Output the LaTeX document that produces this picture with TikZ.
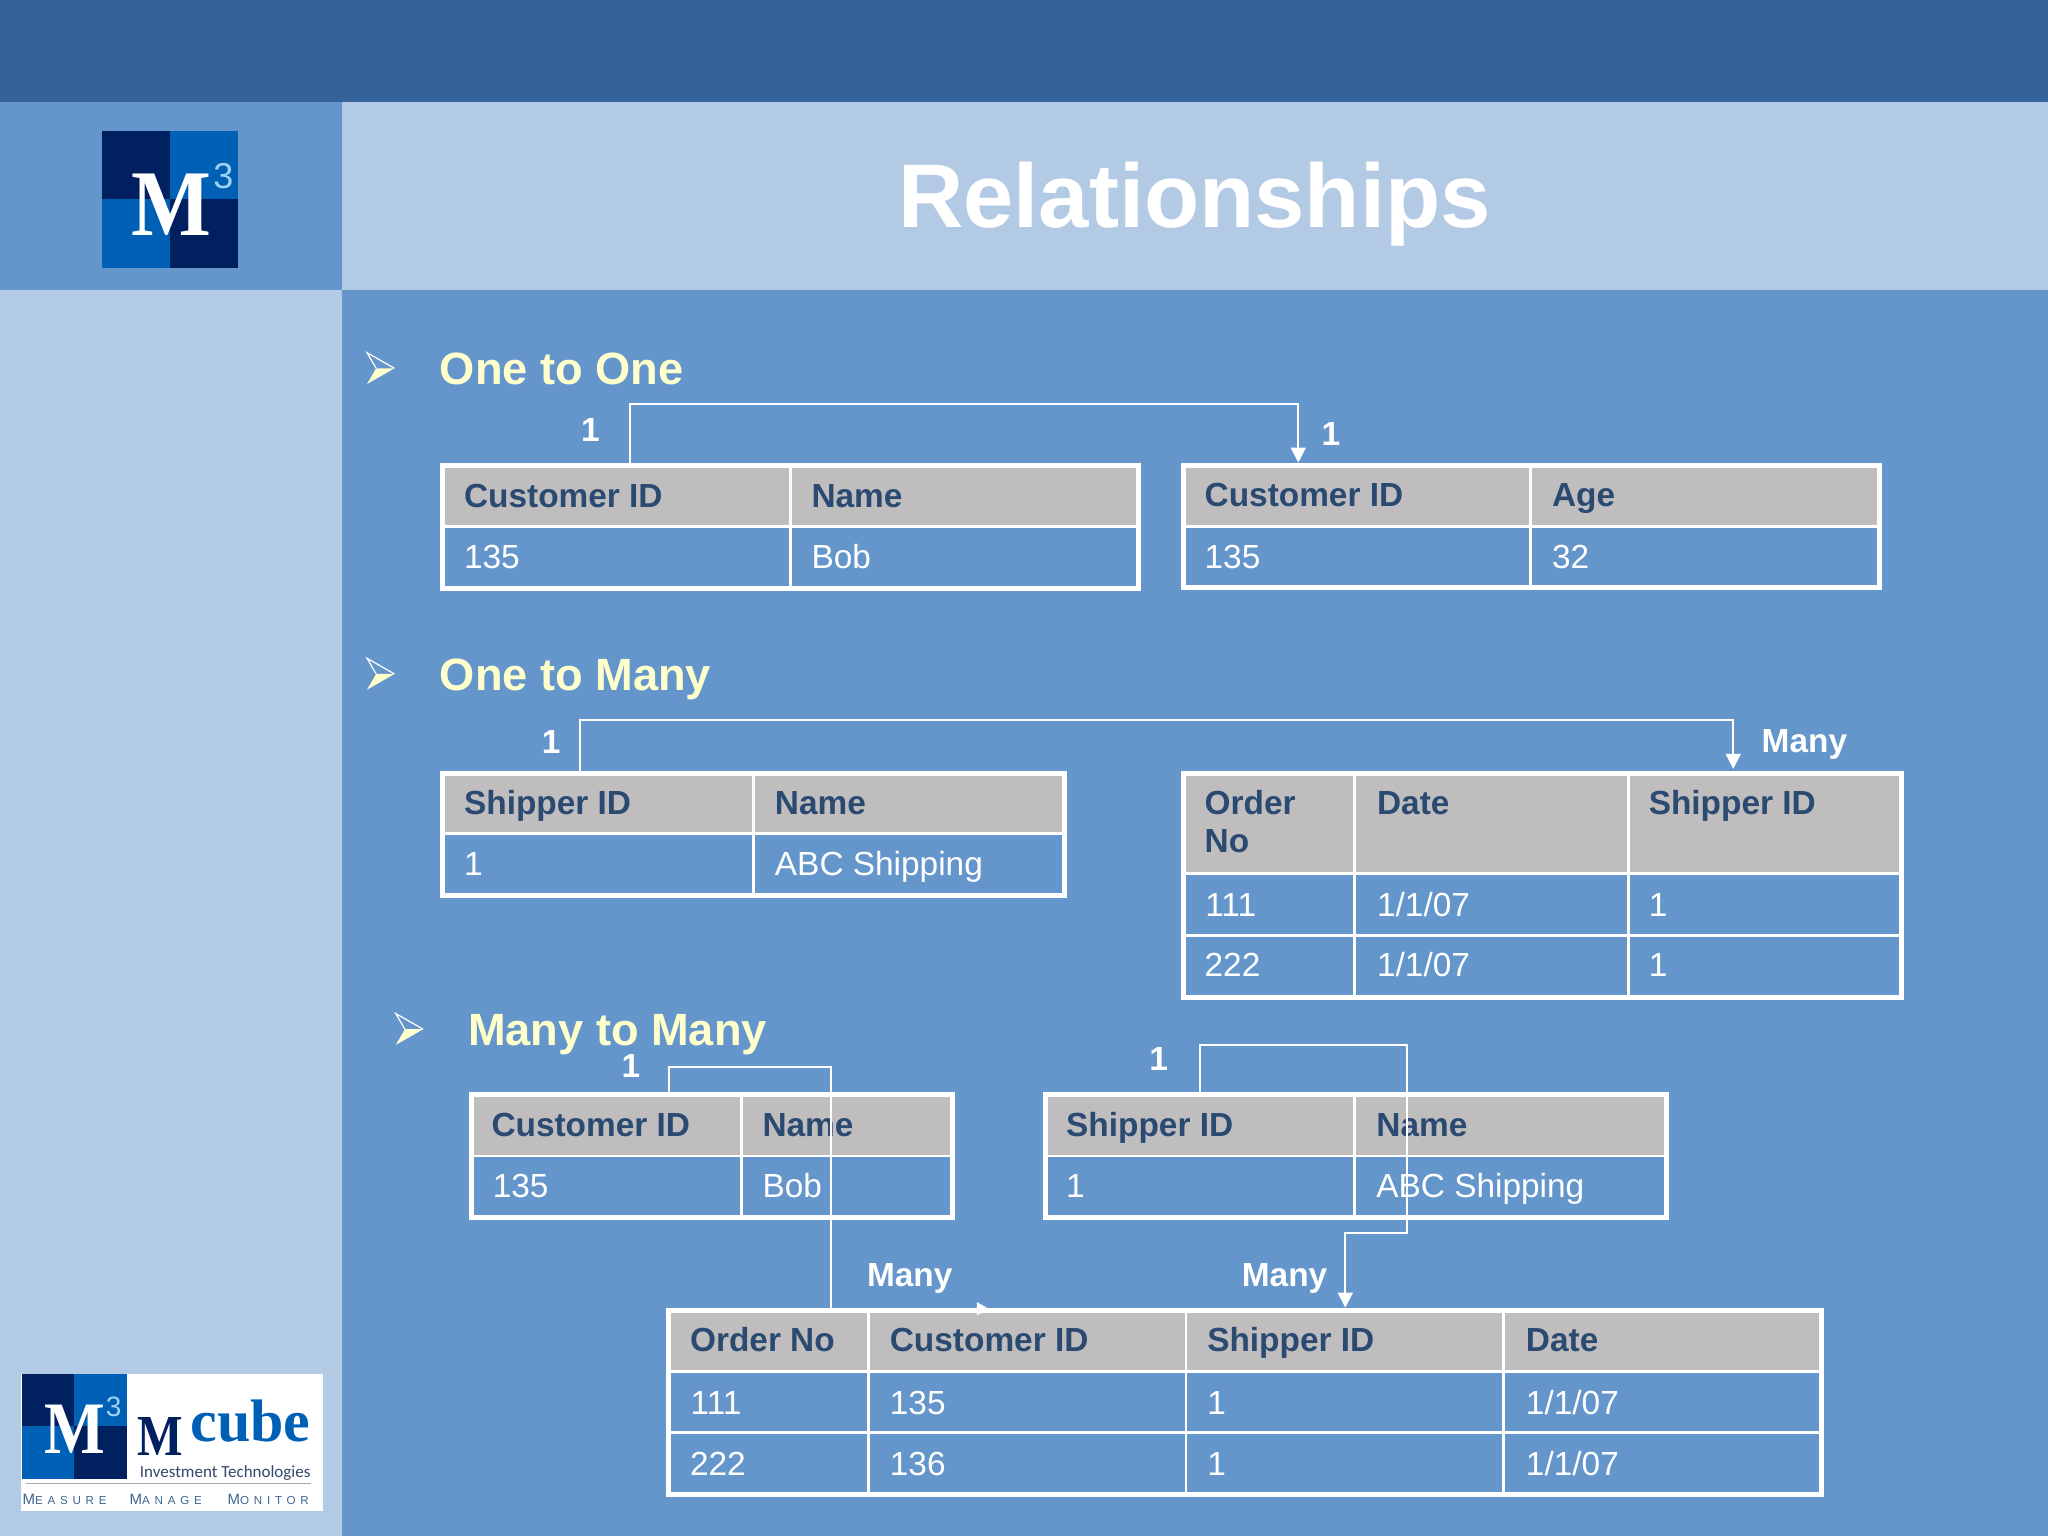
\documentclass[tikz,border=0pt]{standalone}
\usepackage{fontspec}
\usepackage{graphicx}
\setmainfont{Liberation Sans}
\newfontfamily\serifface{Liberation Serif}
\newfontfamily\logosans{Carlito}
\newfontfamily\spaced[LetterSpace=41]{Liberation Sans}
\usetikzlibrary{arrows.meta,fit}
\definecolor{mainbg}{HTML}{6496CC}
\definecolor{band}{HTML}{34639B}
\definecolor{lightbg}{HTML}{B3CAE4}
\definecolor{headgray}{HTML}{BFBDBE}
\definecolor{headtext}{HTML}{2A4A72}
\definecolor{sect}{HTML}{FFFFCC}
\definecolor{logodark}{HTML}{00205F}
\definecolor{logoblue}{HTML}{0060B5}
\definecolor{logotxt}{HTML}{3E6690}
\definecolor{logothree}{HTML}{9CD2F2}
\tikzset{
  x=0.65306pt,y=-0.65306pt,
  htext/.style={anchor=base west,inner sep=0pt,text=headtext,font=\fontsize{16.7}{20}\selectfont\bfseries},
  btext/.style={anchor=base west,inner sep=0pt,text=white,font=\fontsize{16.7}{20}\selectfont},
  card/.style={anchor=center,inner sep=0pt,text=white,font=\fontsize{16.7}{20}\selectfont\bfseries},
  secttext/.style={anchor=base west,inner sep=0pt,text=sect,font=\fontsize{22.6}{26}\selectfont\bfseries},
  frame/.style={draw=white,line width=2.5pt,inner sep=-0.7pt,fill=none},
  grid/.style={draw=white,line width=1.4pt},
  link/.style={draw=white,line width=1pt,line join=miter},
  linkarrow/.style={link,-{Triangle[length=7.5pt,width=7.5pt]}},
  linkarrowsmall/.style={link,-{Triangle[length=6pt,width=6.5pt]}},
}
\newcommand{\bulletarrow}[2]{%
  \begin{scope}[shift={(#1,#2)}]
    \fill[sect] (0,12) -- (21,0) -- (7,0) -- cycle;
    \draw[white,line width=0.6pt,line join=miter] (7,0) -- (0,-12) -- (21,0);
  \end{scope}}
\begin{document}
\begin{tikzpicture}
\useasboundingbox (0,0) rectangle (1568,1176);
% background
\fill[mainbg] (0,0) rectangle (1568,1176);
\fill[band] (0,0) rectangle (1568,78);
\fill[lightbg] (262,78) rectangle (1568,222);
\fill[lightbg] (0,222) rectangle (262,1176);
% top logo
\fill[logodark] (78,100) rectangle (130,152);
\fill[logoblue] (130,100) rectangle (182,152);
\fill[logoblue] (78,152) rectangle (130,205);
\fill[logodark] (130,152) rectangle (182,205);
\node[anchor=base,inner sep=0pt,text=white,font=\fontsize{47}{50}\selectfont\serifface\bfseries] (topm) at (131,180) {\scalebox{0.9}[1]{M}};
\node[inner sep=0pt,text=logothree,font=\fontsize{18}{20}\selectfont] (topthree) at (171,135) {3};
% title
\node[anchor=base,inner sep=0pt,text=white,font=\fontsize{45.2}{50}\selectfont\bfseries] (title) at (914.5,174) {Relationships};
% bottom logo
\fill[white] (16,1052) rectangle (247,1157);
\fill[logodark] (17,1052) rectangle (57,1092);
\fill[logoblue] (57,1052) rectangle (97,1092);
\fill[logoblue] (17,1092) rectangle (57,1132);
\fill[logodark] (57,1092) rectangle (97,1132);
\node[anchor=base,inner sep=0pt,text=white,font=\fontsize{37}{40}\selectfont\serifface\bfseries] (botm) at (57,1113) {\scalebox{0.87}[1]{M}};
\node[inner sep=0pt,text=logothree,font=\fontsize{14}{15}\selectfont] (botthree) at (87,1077) {3};
\node[anchor=base west,inner sep=0pt,text=logodark,font=\fontsize{29}{30}\selectfont\serifface\bfseries] (mcubem) at (105,1114) {\scalebox{0.83}[1]{M}};
\node[anchor=base east,inner sep=0pt,text=logoblue,font=\fontsize{30}{32}\selectfont\serifface\bfseries] (mcube) at (238,1104) {cube};
\node[anchor=base east,inner sep=0pt,text=logodark!60!gray,font=\fontsize{8.5}{10}\selectfont\logosans] (invest) at (238,1131) {Investment Technologies};
\draw[gray!70,line width=0.4pt] (20,1136) -- (238,1136);
\node[anchor=base west,inner sep=0pt,text=logotxt,font=\spaced] (measure) at (17,1152) {{\fontsize{7.5}{8}\selectfont M}{\fontsize{5.8}{8}\selectfont EASURE}};
\node[anchor=base west,inner sep=0pt,text=logotxt,font=\spaced] (manage) at (99,1152) {{\fontsize{7.5}{8}\selectfont M}{\fontsize{5.8}{8}\selectfont ANAGE}};
\node[anchor=base west,inner sep=0pt,text=logotxt,font=\spaced] (monitor) at (174,1152) {{\fontsize{7.5}{8}\selectfont M}{\fontsize{5.8}{8}\selectfont ONITOR}};
% sections
\bulletarrow{281}{282}
\node[secttext] (s1) at (336.5,294) {One to One};
\bulletarrow{281}{516}
\node[secttext] (s2) at (336.5,529) {One to Many};
\bulletarrow{303}{788}
\node[secttext] (s3) at (358,800.5) {Many to Many};
% table 1
\fill[headgray] (338,355) rectangle (873,403);
\draw[grid] (338,403) -- (873,403) (605,355) -- (605,452);
\node[frame,fit={(338,355)(873,452)}] (t1) {};
\node[htext] (t1a) at (355,388.5) {Customer ID};
\node[htext] (t1b) at (621,388.5) {Name};
\node[btext] (t1c) at (355,435.5) {135};
\node[btext] (t1d) at (621,435.5) {Bob};
% table 2
\fill[headgray] (905,355) rectangle (1440,403);
\draw[grid] (905,403) -- (1440,403) (1172,355) -- (1172,451);
\node[frame,fit={(905,355)(1440,451)}] (t2) {};
\node[htext] (t2a) at (922,388) {Customer ID};
\node[htext] (t2b) at (1188,388) {Age};
\node[btext] (t2c) at (922,435) {135};
\node[btext] (t2d) at (1188,435) {32};
% table 3
\fill[headgray] (338,591) rectangle (816,638);
\draw[grid] (338,638) -- (816,638) (577,591) -- (577,687);
\node[frame,fit={(338,591)(816,687)}] (t3) {};
\node[htext] (t3a) at (355,623.5) {Shipper ID};
\node[htext] (t3b) at (593,623.5) {Name};
\node[btext] (t3c) at (355,670) {1};
\node[btext] (t3d) at (593,670) {ABC Shipping};
% table 4
\fill[headgray] (905,591) rectangle (1457,669);
\draw[grid] (905,669) -- (1457,669) (905,716) -- (1457,716) (1037,591) -- (1037,765) (1247,591) -- (1247,765);
\node[frame,fit={(905,591)(1457,765)}] (t4) {};
\node[htext] (t4a) at (922,623.5) {Order};
\node[htext] (t4a2) at (922,652.5) {No};
\node[htext] (t4b) at (1054,623.5) {Date};
\node[htext] (t4c) at (1262,623.5) {Shipper ID};
\node[btext] (t4d) at (922.5,702) {111};
\node[btext] (t4e) at (1054,702) {1/1/07};
\node[btext] (t4f) at (1262,702) {1};
\node[btext] (t4g) at (922,748) {222};
\node[btext] (t4h) at (1054,748) {1/1/07};
\node[btext] (t4i) at (1262,748) {1};
% table 5
\fill[headgray] (360,837) rectangle (730,885);
\draw[grid] (360,885) -- (730,885) (568,837) -- (568,933);
\node[frame,fit={(360,837)(730,933)}] (t5) {};
\node[htext] (t5a) at (376,870.5) {Customer ID};
\node[htext] (t5b) at (583.5,870.5) {Name};
\node[btext] (t5c) at (377,917) {135};
\node[btext] (t5d) at (583.5,917) {Bob};
% table 6
\fill[headgray] (799,837) rectangle (1277,885);
\draw[grid] (799,885) -- (1277,885) (1037,837) -- (1037,933);
\node[frame,fit={(799,837)(1277,933)}] (t6) {};
\node[htext] (t6a) at (816,870.5) {Shipper ID};
\node[htext] (t6b) at (1053.5,870.5) {Name};
\node[btext] (t6c) at (816,917) {1};
\node[btext] (t6d) at (1053.5,917) {ABC Shipping};
% table 7
\fill[headgray] (511,1002) rectangle (1396,1050);
\draw[grid] (511,1050) -- (1396,1050) (511,1097) -- (1396,1097) (665,1002) -- (665,1145) (908,1002) -- (908,1145) (1151,1002) -- (1151,1145);
\node[frame,fit={(511,1002)(1396,1145)}] (t7) {};
\node[htext] (t7a) at (528,1035) {Order No};
\node[htext] (t7b) at (681,1035) {Customer ID};
\node[htext] (t7c) at (924,1035) {Shipper ID};
\node[htext] (t7d) at (1168,1035) {Date};
\node[btext] (t7e) at (528.5,1083) {111};
\node[btext] (t7f) at (681,1083) {135};
\node[btext] (t7g) at (924,1083) {1};
\node[btext] (t7h) at (1168,1083) {1/1/07};
\node[btext] (t7i) at (528,1130) {222};
\node[btext] (t7j) at (681,1130) {136};
\node[btext] (t7k) at (924,1130) {1};
\node[btext] (t7l) at (1168,1130) {1/1/07};
% connector bends
\coordinate (a1) at (482,309);
\coordinate (a2) at (994,309);
\coordinate (b1) at (444,551);
\coordinate (b2) at (1327,551);
\coordinate (c1) at (512,817);
\coordinate (c2) at (636,817);
\coordinate (c4) at (757,1002);
\coordinate (d1) at (919,800);
\coordinate (d2) at (1077,800);
\coordinate (d3) at (1077,944);
\coordinate (d4) at (1030,944);
% connectors
\draw[linkarrow] (t1.north -| a1) -- (a1) -- (a2) -- (t2.north -| a2);
\draw[linkarrow] (t3.north -| b1) -- (b1) -- (b2) -- ([yshift=1pt]t4.north -| b2);
\draw[linkarrowsmall] (t5.north -| c1) -- (c1) -- (c2) -- (c2 |- c4) -- (c4);
\draw[linkarrow] (t6.north -| d1) -- (d1) -- (d2) -- (d3) -- (d4) -- (t7.north -| d4);
% labels
\node[card] (l1) at (452,329) {1};
\node[card] (l2) at (1019,332) {1};
\node[card] (l3) at (422,568) {1};
\node[card] (l4) at (1381.5,570) {Many};
\node[card] (l5) at (483,816) {1};
\node[card] (l6) at (887,811) {1};
\node[card] (l7) at (696.5,979) {Many};
\node[card] (l8) at (983.5,979) {Many};
\end{tikzpicture}
\end{document}
